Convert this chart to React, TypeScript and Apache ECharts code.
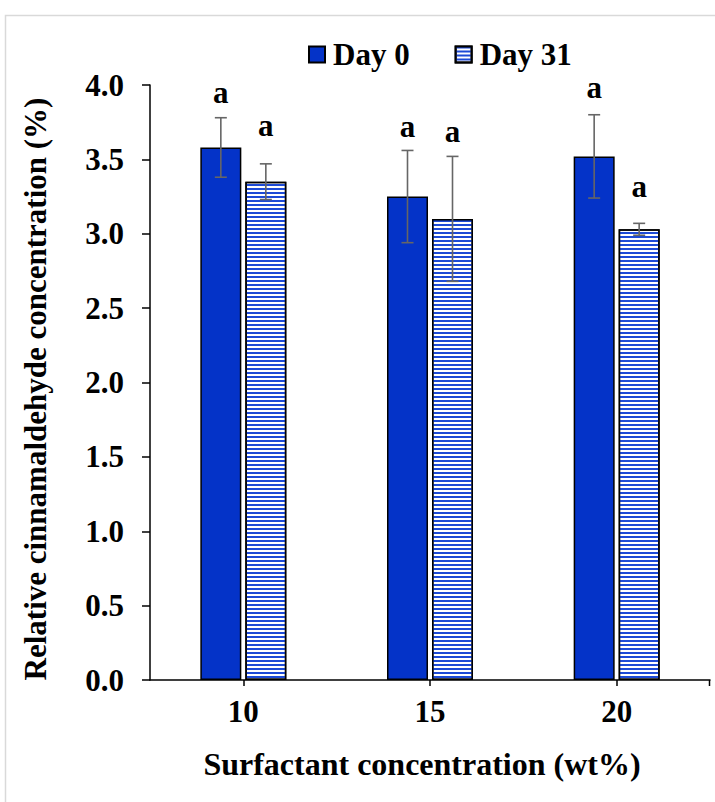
import React, { useEffect, useRef } from "react";
import * as echarts from "echarts";

// Surfactant levels (wt%) on the category axis
const categories = ["10", "15", "20"];
const seriesNames = ["Day 0", "Day 31"];

// Relative cinnamaldehyde concentration (%) and standard deviations
const day0Mean = [3.58, 3.25, 3.52];
const day0Err = [0.2, 0.31, 0.28];
const day31Mean = [3.35, 3.1, 3.03];
const day31Err = [0.12, 0.42, 0.04];

// Significance letters and the value level each one sits at
const day0Letters = ["a", "a", "a"];
const day31Letters = ["a", "a", "a"];
const day0LetterAt = [3.95, 3.72, 3.98];
const day31LetterAt = [3.73, 3.69, 3.32];

// Value axis
const yMin = 0;
const yMax = 4;
const yStep = 0.5;

const FONT = '"Liberation Serif", "Times New Roman", Times, serif';
const BLUE = "#0433c8";
const STRIPE = "#1d4ad6";
const BAR_W = 41;
const BAR_GAP_PX = 4;
const OFFSET = (BAR_W + BAR_GAP_PX) / 2;

function errorSeries(mean: number[], err: number[], dx: number) {
  return {
    type: "custom",
    silent: true,
    z: 5,
    data: mean.map((m, i) => [i, m, err[i]]),
    renderItem: (_p: any, api: any) => {
      const i = api.value(0);
      const m = api.value(1);
      const e = api.value(2);
      const top = api.coord([i, m + e]);
      const bot = api.coord([i, m - e]);
      const cx = top[0] + dx;
      const half = 6;
      const st = { stroke: "#666666", lineWidth: 1.6 };
      return {
        type: "group",
        children: [
          { type: "line", shape: { x1: cx, y1: top[1], x2: cx, y2: bot[1] }, style: st },
          { type: "line", shape: { x1: cx - half, y1: top[1], x2: cx + half, y2: top[1] }, style: st },
          { type: "line", shape: { x1: cx - half, y1: bot[1], x2: cx + half, y2: bot[1] }, style: st },
        ],
      };
    },
  };
}

function letterSeries(letters: string[], at: number[], dx: number) {
  return {
    type: "custom",
    silent: true,
    z: 6,
    data: at.map((v, i) => [i, v]),
    renderItem: (p: any, api: any) => {
      const pt = api.coord([api.value(0), api.value(1)]);
      return {
        type: "text",
        x: pt[0] + dx,
        y: pt[1],
        style: {
          text: letters[p.dataIndex],
          fill: "#000",
          font: `bold 31px ${FONT}`,
          align: "center",
          verticalAlign: "middle",
        },
      };
    },
  };
}

export default function App() {
  const ref = useRef<HTMLDivElement>(null);

  useEffect(() => {
    if (!ref.current) return;
    const chart = echarts.init(ref.current, null, { renderer: "svg" });

    const option: any = {
      animation: false,
      backgroundColor: "#ffffff",
      textStyle: { fontFamily: FONT },
      grid: { left: 150, right: 5, top: 85, bottom: 122, containLabel: false },
      legend: {
        data: seriesNames,
        left: 303,
        top: 34,
        icon: "rect",
        itemWidth: 16,
        itemHeight: 16,
        itemGap: 45,
        textStyle: {
          fontFamily: FONT,
          fontWeight: "bold",
          fontSize: 31,
          color: "#000",
          padding: [0, 0, 0, 3],
        },
      },
      xAxis: {
        type: "category",
        data: categories,
        axisLine: { show: true, lineStyle: { color: "#000", width: 1.5 } },
        axisTick: { show: true, alignWithLabel: true, length: 6, lineStyle: { color: "#000", width: 1.5 } },
        axisLabel: {
          margin: 16,
          fontFamily: FONT,
          fontWeight: "bold",
          fontSize: 31,
          color: "#000",
        },
        splitLine: { show: false },
      },
      yAxis: {
        type: "value",
        min: yMin,
        max: yMax,
        interval: yStep,
        axisLine: { show: true, lineStyle: { color: "#000", width: 1.5 } },
        axisTick: { show: true, inside: false, length: 8, lineStyle: { color: "#000", width: 1.5 } },
        axisLabel: {
          margin: 26,
          formatter: (v: number) => v.toFixed(1),
          fontFamily: FONT,
          fontWeight: "bold",
          fontSize: 31,
          color: "#000",
        },
        splitLine: { show: false },
      },
      series: [
        {
          name: seriesNames[0],
          type: "bar",
          data: day0Mean,
          barWidth: BAR_W,
          barGap: `${(BAR_GAP_PX / BAR_W) * 100}%`,
          itemStyle: { color: BLUE, borderColor: "#000", borderWidth: 1.5 },
        },
        {
          name: seriesNames[1],
          type: "bar",
          data: day31Mean,
          barWidth: BAR_W,
          itemStyle: {
            color: "#ffffff",
            borderColor: "#000",
            borderWidth: 1.5,
            decal: {
              symbol: "rect",
              symbolSize: 1,
              color: STRIPE,
              dashArrayX: [[1, 0]],
              dashArrayY: [1.9, 1.4],
              rotation: 0,
            },
          },
        },
        errorSeries(day0Mean, day0Err, -OFFSET),
        errorSeries(day31Mean, day31Err, OFFSET),
        letterSeries(day0Letters, day0LetterAt, -OFFSET),
        letterSeries(day31Letters, day31LetterAt, OFFSET),
      ],
      graphic: [
        {
          type: "rect",
          silent: true,
          z: -10,
          shape: { x: 5.5, y: 15.5, width: 760, height: 830 },
          style: { fill: "none", stroke: "#d9d9d9", lineWidth: 1.5 },
        },
        {
          type: "line",
          silent: true,
          shape: { x1: 709.5, y1: 680, x2: 709.5, y2: 686 },
          style: { stroke: "#000", lineWidth: 1.5 },
        },
        {
          type: "text",
          x: 422,
          y: 764,
          style: {
            text: "Surfactant concentration (wt%)",
            font: `bold 32px ${FONT}`,
            fill: "#000",
            align: "center",
            verticalAlign: "middle",
          },
        },
        {
          type: "text",
          x: 35,
          y: 389,
          rotation: Math.PI / 2,
          style: {
            text: "Relative cinnamaldehyde concentration (%)",
            font: `bold 31px ${FONT}`,
            fill: "#000",
            align: "center",
            verticalAlign: "middle",
          },
        },
      ],
    };

    chart.setOption(option);
    return () => chart.dispose();
  }, []);

  return (
    <div
      ref={ref}
      style={{ position: "absolute", left: 0, top: 0, width: 715, height: 802, background: "#fff" }}
    />
  );
}
